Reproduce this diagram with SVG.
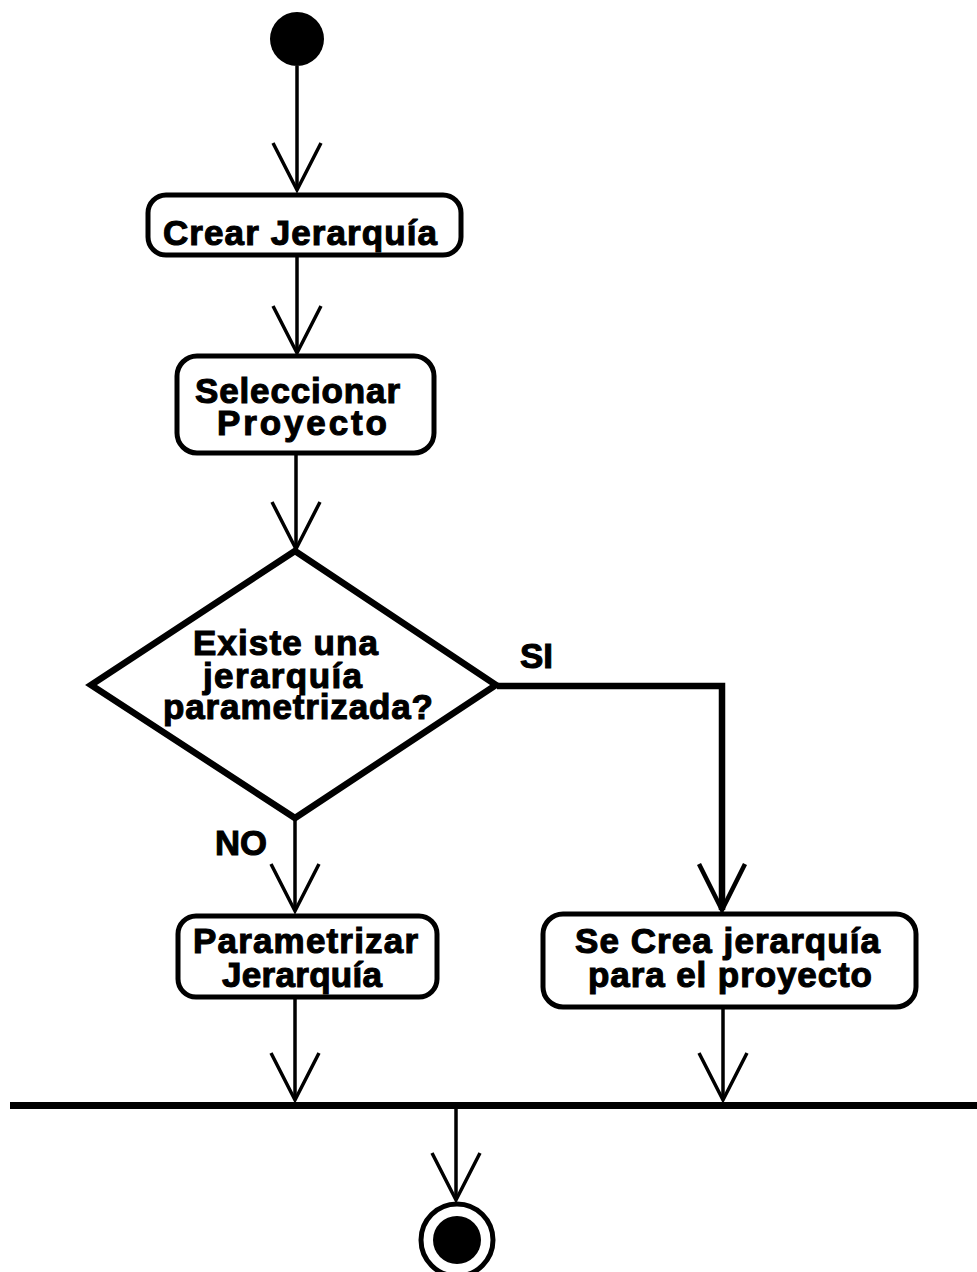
<svg xmlns="http://www.w3.org/2000/svg" width="977" height="1272" viewBox="0 0 977 1272">
  <style>
    .box { fill: #ffffff; stroke: #000000; stroke-width: 5; }
    .dec { fill: #ffffff; stroke: #000000; stroke-width: 6.5; stroke-linejoin: miter; }
    .edge { fill: none; stroke: #000000; stroke-width: 3.5; }
    .thick { fill: none; stroke: #000000; stroke-width: 6.5; }
    .lbl { font-family: "Liberation Sans", Arial, sans-serif; font-weight: bold; font-size: 35px; fill: #000000; stroke: #000000; stroke-width: 1.1; text-anchor: start; }
  </style>
  <defs>
    <marker id="open" markerUnits="userSpaceOnUse" markerWidth="60" markerHeight="60" refX="0" refY="0" viewBox="-50 -30 56 60" orient="auto" overflow="visible">
      <path d="M-47,-24 L0,0 L-47,24" fill="none" stroke="#000000" stroke-width="3.5"/>
    </marker>
    <marker id="openBold" markerUnits="userSpaceOnUse" markerWidth="60" markerHeight="60" refX="0" refY="0" viewBox="-50 -30 56 60" orient="auto" overflow="visible">
      <path d="M-46,-23 L0,0 L-46,23" fill="none" stroke="#000000" stroke-width="4.5"/>
    </marker>
  </defs>

  <rect width="977" height="1272" fill="#ffffff"/>

  <!-- connectors -->
  <g id="connectors">
    <path class="edge" d="M297,66 L297,190" marker-end="url(#open)"/>
    <path class="edge" d="M297,257 L297,353" marker-end="url(#open)"/>
    <path class="edge" d="M296,453 L296,549" marker-end="url(#open)"/>
    <path class="edge" d="M295,818 L295,911" marker-end="url(#open)"/>
    <path class="thick" d="M497,686 L722,686 L722,910" marker-end="url(#openBold)"/>
    <path class="edge" d="M295,998 L295,1100" marker-end="url(#open)"/>
    <path class="edge" d="M723,1008 L723,1100" marker-end="url(#open)"/>
    <path class="edge" d="M456,1106 L456,1200" marker-end="url(#open)"/>
    <text class="lbl" x="520" y="668" textLength="33" lengthAdjust="spacingAndGlyphs">SI</text>
    <text class="lbl" x="215" y="855" textLength="52" lengthAdjust="spacingAndGlyphs">NO</text>
  </g>

  <!-- initial node -->
  <g id="start">
    <circle cx="297" cy="39" r="27" fill="#000000"/>
  </g>

  <!-- Crear Jerarquía -->
  <g id="crear">
    <rect class="box" x="148" y="195" width="313" height="60" rx="18"/>
    <text class="lbl" x="163" y="245" textLength="274" lengthAdjust="spacing">Crear Jerarquía</text>
  </g>

  <!-- Seleccionar Proyecto -->
  <g id="seleccionar">
    <rect class="box" x="177" y="356" width="257" height="97" rx="20"/>
    <text class="lbl" x="195" y="403" textLength="205" lengthAdjust="spacing">Seleccionar</text>
    <text class="lbl" x="217" y="435" textLength="170" lengthAdjust="spacing">Proyecto</text>
  </g>

  <!-- decision -->
  <g id="decision">
    <polygon class="dec" points="295,551 496,685 295,818 91,685"/>
    <text class="lbl" x="193" y="655" textLength="185" lengthAdjust="spacing">Existe una</text>
    <text class="lbl" x="203" y="688" textLength="159" lengthAdjust="spacing">jerarquía</text>
    <text class="lbl" x="163" y="719" textLength="270" lengthAdjust="spacing">parametrizada?</text>
  </g>

  <!-- Parametrizar Jerarquía -->
  <g id="parametrizar">
    <rect class="box" x="178" y="916" width="259" height="81" rx="18"/>
    <text class="lbl" x="193" y="953" textLength="225" lengthAdjust="spacing">Parametrizar</text>
    <text class="lbl" x="222" y="987" textLength="160" lengthAdjust="spacing">Jerarquía</text>
  </g>

  <!-- Se Crea jerarquía para el proyecto -->
  <g id="secrea">
    <rect class="box" x="543" y="914" width="373" height="93" rx="20"/>
    <text class="lbl" x="575" y="953" textLength="305" lengthAdjust="spacing">Se Crea jerarquía</text>
    <text class="lbl" x="588" y="987" textLength="284" lengthAdjust="spacing">para el proyecto</text>
  </g>

  <!-- join bar -->
  <g id="join">
    <rect x="10" y="1102" width="967" height="7" fill="#000000"/>
  </g>

  <!-- final node -->
  <g id="end">
    <circle cx="457" cy="1240" r="36" fill="#ffffff" stroke="#000000" stroke-width="5"/>
    <circle cx="457" cy="1240" r="24" fill="#000000"/>
  </g>
</svg>
